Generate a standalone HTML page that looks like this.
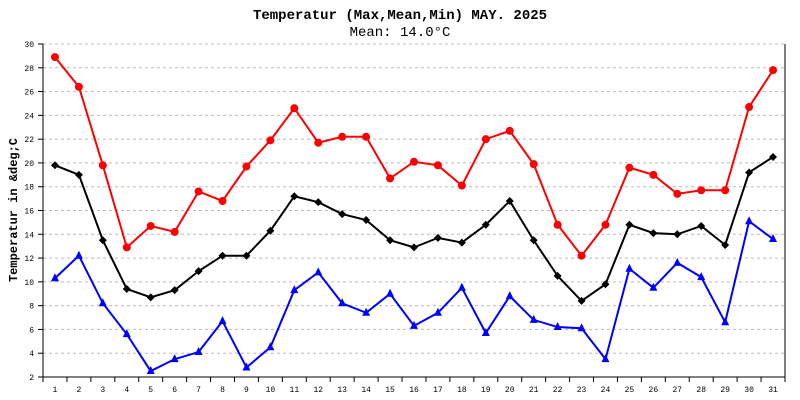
<!DOCTYPE html>
<html><head><meta charset="utf-8"><style>
body{margin:0;background:#fff}
svg{display:block}
text{font-family:"Liberation Mono","DejaVu Sans Mono",monospace}
</style></head><body>
<svg id="c" width="800" height="400" xmlns="http://www.w3.org/2000/svg">
<text x="400" y="19" text-anchor="middle" font-size="14" font-weight="bold">Temperatur (Max,Mean,Min) MAY. 2025</text>
<text x="400" y="36" text-anchor="middle" font-size="14">Mean: 14.0°C</text>
<text transform="translate(17,210) rotate(-90)" text-anchor="middle" font-size="12" font-weight="bold">Temperatur in &amp;deg;C</text>
</svg>
<script>
const days=[1,2,3,4,5,6,7,8,9,10,11,12,13,14,15,16,17,18,19,20,21,22,23,24,25,26,27,28,29,30,31];
const maxT=[28.9,26.4,19.8,12.9,14.7,14.2,17.6,16.8,19.7,21.9,24.6,21.7,22.2,22.2,18.7,20.1,19.8,18.1,22.0,22.7,19.9,14.8,12.2,14.8,19.6,19.0,17.4,17.7,17.7,24.7,27.8];
const meanT=[19.8,19.0,13.5,9.4,8.7,9.3,10.9,12.2,12.2,14.3,17.2,16.7,15.7,15.2,13.5,12.9,13.7,13.3,14.8,16.8,13.5,10.5,8.4,9.8,14.8,14.1,14.0,14.7,13.1,19.2,20.5];
const minT=[10.3,12.2,8.2,5.6,2.5,3.5,4.1,6.7,2.8,4.5,9.3,10.8,8.2,7.4,9.0,6.3,7.4,9.5,5.7,8.8,6.8,6.2,6.1,3.5,11.1,9.5,11.6,10.4,6.6,15.1,13.6];
const yTicks=[2,4,6,8,10,12,14,16,18,20,22,24,26,28,30];
const svg=document.getElementById('c');const NS='http://www.w3.org/2000/svg';
const L=43,R=785,T=44,B=377,yMin=2,yMax=30;
const step=(R-L)/days.length;
const xs=i=>L+step*(i+0.5);
const ys=v=>B-(v-yMin)/(yMax-yMin)*(B-T);
function mk(t,a){const e=document.createElementNS(NS,t);for(const k in a)e.setAttribute(k,a[k]);svg.appendChild(e);return e;}
yTicks.forEach(v=>{const y=ys(v);
 if(v>yMin){const g=mk('line',{x1:L,x2:R,y1:y,y2:y,stroke:'#bbb','stroke-dasharray':'3,3'});
 
 }
 mk('line',{x1:L-5,x2:L,y1:y,y2:y,stroke:'#000'});
 const t=mk('text',{x:L-9,y:y+3,'text-anchor':'end','font-size':8});t.textContent=v;
 
 });
const ax=mk('path',{d:`M${L},${T} V${B} H${R} V${T}`,stroke:'#000',fill:'none'});


for(let i=0;i<=days.length;i++){const x=L+step*i;mk('line',{x1:x,x2:x,y1:B,y2:B+5,stroke:'#000'});}
days.forEach((d,i)=>{const t=mk('text',{x:xs(i),y:B+15,'text-anchor':'middle','font-size':8});t.textContent=d;
 
 });
function series(vals,color,shape,name){
 const p=mk('polyline',{points:vals.map((v,i)=>xs(i)+','+ys(v)).join(' '),fill:'none',stroke:color,'stroke-width':2});
 
 
 vals.forEach((v,i)=>{const x=xs(i),y=ys(v);let m;
  if(shape==='circle')m=mk('circle',{cx:x,cy:y,r:4,fill:color});
  else if(shape==='diamond')m=mk('polygon',{points:`${x},${y-4} ${x+4},${y} ${x},${y+4} ${x-4},${y}`,fill:color});
  else m=mk('polygon',{points:`${x},${y-5} ${x+4},${y+3} ${x-4},${y+3}`,fill:color});
  
  });
}
series(maxT,'#ff0000','circle','max');
series(meanT,'#000000','diamond','mean');
series(minT,'#0000ff','triangle','min');
</script>
</body></html>
